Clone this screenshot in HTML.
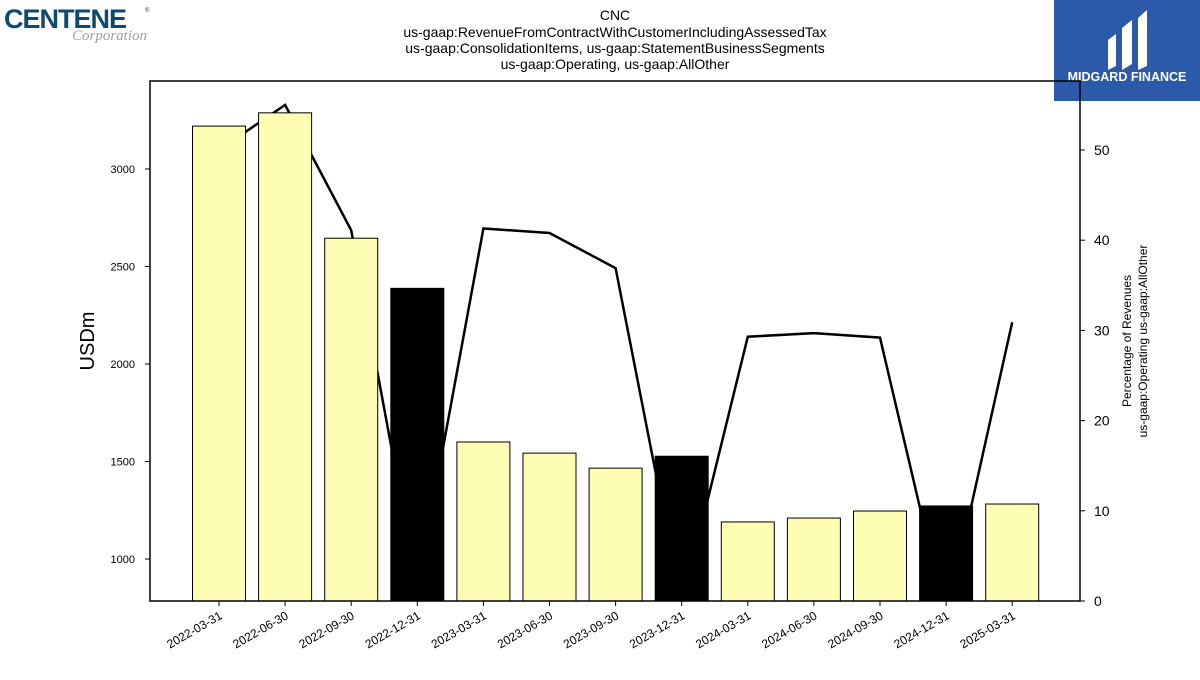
<!DOCTYPE html>
<html><head><meta charset="utf-8"><style>
body{margin:0;background:#fff;width:1200px;height:675px;overflow:hidden;font-family:"Liberation Sans",sans-serif}
</style></head><body>
<svg id="chart" width="1200" height="675" xmlns="http://www.w3.org/2000/svg" font-family="Liberation Sans, sans-serif">
<g>
<text x="4" y="28" font-size="27" font-weight="bold" fill="#0d4a6e" letter-spacing="-1">CENTENE</text>
<text x="145" y="12" font-size="6" fill="#0d4a6e">®</text>
<text x="72" y="40" font-size="15" fill="#a0a0a0" font-family="Liberation Serif, serif" font-style="italic">Corporation</text>
</g>
<g font-size="14" text-anchor="middle" fill="#000">
<text x="615" y="20">CNC</text>
<text x="615" y="37">us-gaap:RevenueFromContractWithCustomerIncludingAssessedTax</text>
<text x="615" y="53">us-gaap:ConsolidationItems, us-gaap:StatementBusinessSegments</text>
<text x="615" y="69">us-gaap:Operating, us-gaap:AllOther</text>
</g>
<g>
<rect x="1054" y="0" width="146" height="101" fill="#2d5aa8"/>
<path d="M1108 40 L1116 34 L1116 66 L1108 70 Z M1122 28 L1132 20 L1132 64 L1122 70 Z M1138 18 L1147 10 L1147 66 L1138 70 Z" fill="#fff"/>
<text x="1127" y="81" font-size="12.5" font-weight="bold" fill="#fff" text-anchor="middle">MIDGARD FINANCE</text>
</g>
<defs><clipPath id="pc"><rect x="150" y="81" width="930" height="520"/></clipPath></defs>
<g id="plot"></g>
<rect x="150" y="81" width="930" height="520" fill="none" stroke="#000" stroke-width="1.5"/>
<text transform="translate(94,341) rotate(-90)" font-size="20" text-anchor="middle">USDm</text>
<g transform="translate(1145,341) rotate(-90)" font-size="12" text-anchor="middle">
<text y="-14">Percentage of Revenues</text><text y="2">us-gaap:Operating us-gaap:AllOther</text></g>
</svg>
<script>
const categories=["2022-03-31","2022-06-30","2022-09-30","2022-12-31","2023-03-31","2023-06-30","2023-09-30","2023-12-31","2024-03-31","2024-06-30","2024-09-30","2024-12-31","2025-03-31"];
const revenues=[3220,3288,2645,2388,1600,1543,1466,1527,1190,1210,1246,1272,1282];
const percents=[50,55,41.1,1.5,41.3,40.8,36.9,-0.5,29.3,29.7,29.2,-2,30.9];
const highlight=[false,false,false,true,false,false,false,true,false,false,false,true,false];
const leftTicks=[1000,1500,2000,2500,3000];
const rightTicks=[0,10,20,30,40,50];
const NS="http://www.w3.org/2000/svg";
const svg=document.getElementById('chart'),plot=document.getElementById('plot');
const yL=v=>559-(v-1000)*0.195, yR=v=>601-v*9.02, xC=i=>219+i*66.1;
function mk(t,a,p){const e=document.createElementNS(NS,t);for(const k in a)e.setAttribute(k,a[k]);(p||plot).appendChild(e);return e;}
const g=mk('g',{'clip-path':'url(#pc)'});
// line behind bars
const pl=mk('polyline',{points:percents.map((v,i)=>xC(i)+','+yR(v)).join(' '),fill:'none',stroke:'#000','stroke-width':2.5},g);


revenues.forEach((v,i)=>{
 const r=mk('rect',{x:xC(i)-26.5,y:yL(v),width:53,height:601-yL(v),fill:highlight[i]?'#000':'#fdfdb3',stroke:'#000','stroke-width':1},g);
 
 
 const t=mk('line',{x1:xC(i),x2:xC(i),y1:601,y2:606,stroke:'#000'});
 const lb=mk('text',{transform:`translate(${xC(i)+4},${618}) rotate(-30)`,'font-size':12,'text-anchor':'end'});
 lb.textContent=categories[i];
 
 
});
leftTicks.forEach(v=>{
 mk('line',{x1:145,x2:150,y1:yL(v),y2:yL(v),stroke:'#000'});
 const t=mk('text',{x:135,y:yL(v)+4,'font-size':11,'text-anchor':'end'});t.textContent=v;
 
 
});
rightTicks.forEach(v=>{
 mk('line',{x1:1080,x2:1085,y1:yR(v),y2:yR(v),stroke:'#000'});
 const t=mk('text',{x:1094,y:yR(v)+5,'font-size':14});t.textContent=v;
 
 
});
</script>
</body></html>
